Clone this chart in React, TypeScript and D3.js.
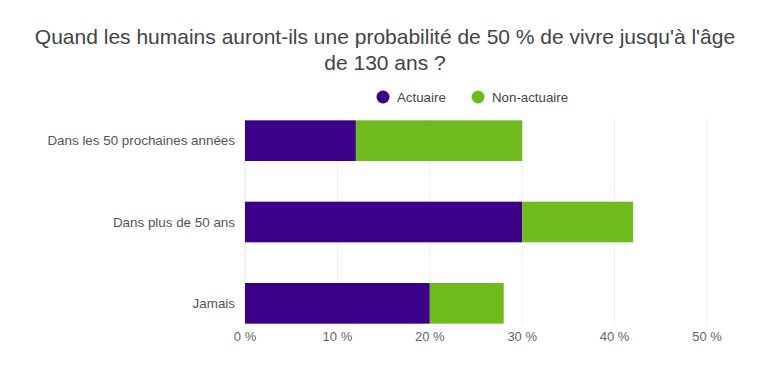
import React, { useEffect, useRef } from "react";
import * as d3 from "d3";

// Data
const categories = ["Dans les 50 prochaines années", "Dans plus de 50 ans", "Jamais"];
const seriesNames = ["Actuaire", "Non-actuaire"];
const actuaire = [12, 30, 20];
const nonActuaire = [18, 12, 8];
const xTicks = [0, 10, 20, 30, 40, 50];
const titleLines = [
  "Quand les humains auront-ils une probabilité de 50 % de vivre jusqu'à l'âge",
  "de 130 ans ?",
];
const colors = ["#3b0087", "#6fbb1e"];

const App = () => {
  const ref = useRef<SVGSVGElement | null>(null);

  useEffect(() => {
    const width = 770;
    const height = 373;
    const svg = d3.select(ref.current);
    svg.selectAll("*").remove();
    const font = "'Liberation Sans', Arial, sans-serif";

    svg.append("rect").attr("width", width).attr("height", height).attr("fill", "#fff");

    // title
    svg.append("g")
      .selectAll("text")
      .data(titleLines)
      .join("text")
      .attr("x", 385)
      .attr("y", (d, i) => 44 + i * 26)
      .attr("text-anchor", "middle")
      .attr("font-family", font)
      .attr("font-size", 21)
      .attr("fill", "#444")
      .text(d => d);

    const x = d3.scaleLinear().domain([0, 50]).range([245, 707]);
    const y = d3.scaleBand<string>()
      .domain(categories)
      .range([100, 344])
      .paddingInner(0.5)
      .paddingOuter(0.25);

    // grid
    svg.append("g")
      .selectAll("line")
      .data(xTicks)
      .join("line")
      .attr("x1", d => x(d))
      .attr("x2", d => x(d))
      .attr("y1", 118)
      .attr("y2", 325)
      .attr("stroke", d => (d === 0 ? "#e0e0e0" : "#efefef"))
      .attr("stroke-width", 1);

    // stacked bars
    const rows = categories.map((c, i) => ({ cat: c, Actuaire: actuaire[i], "Non-actuaire": nonActuaire[i] }));
    const stack = d3.stack<any>().keys(seriesNames)(rows);
    svg.append("g")
      .selectAll("g")
      .data(stack)
      .join("g")
      .attr("fill", (d, i) => colors[i])
      .selectAll("rect")
      .data(d => d)
      .join("rect")
      .attr("x", d => x(d[0]))
      .attr("width", d => x(d[1]) - x(d[0]))
      .attr("y", d => y(d.data.cat) as number)
      .attr("height", y.bandwidth());

    // category labels
    svg.append("g")
      .selectAll("text")
      .data(categories)
      .join("text")
      .attr("x", 235)
      .attr("y", d => (y(d) as number) + y.bandwidth() / 2)
      .attr("dy", "0.35em")
      .attr("text-anchor", "end")
      .attr("font-family", font)
      .attr("font-size", 13.4)
      .attr("fill", "#555")
      .text(d => d);

    // x tick labels
    svg.append("g")
      .selectAll("text")
      .data(xTicks)
      .join("text")
      .attr("x", d => x(d))
      .attr("y", 341)
      .attr("text-anchor", "middle")
      .attr("font-family", font)
      .attr("font-size", 13)
      .attr("fill", "#666")
      .text(d => `${d} %`);

    // legend
    const legend = svg.append("g")
      .selectAll("g")
      .data(seriesNames)
      .join("g")
      .attr("transform", (d, i) => `translate(${[383, 478][i]},97)`);
    legend.append("circle").attr("r", 6.5).attr("fill", (d, i) => colors[i]);
    legend.append("text")
      .attr("x", 14)
      .attr("dy", "0.35em")
      .attr("font-family", font)
      .attr("font-size", 13.3)
      .attr("fill", "#444")
      .text(d => d);
  }, []);

  return (
    <svg
      ref={ref}
      width={770}
      height={373}
      style={{ display: "block", position: "absolute", left: 0, top: 0 }}
    />
  );
};

export default App;
